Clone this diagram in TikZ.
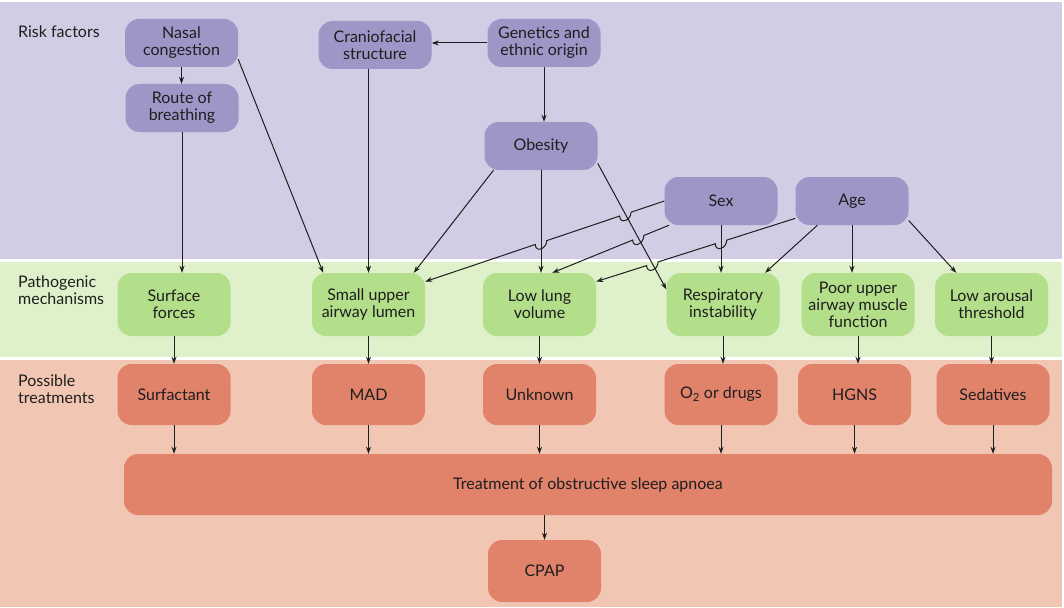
\documentclass[tikz,border=0pt]{standalone}
\usepackage{fontspec}
\setmainfont{Lato}
\usepackage{tikz}
\usetikzlibrary{arrows.meta,calc,intersections}

\definecolor{rfband}{HTML}{D2CDE4}
\definecolor{rfnode}{HTML}{9F95C7}
\definecolor{pmband}{HTML}{DEF1CA}
\definecolor{pmnode}{HTML}{B3DE8A}
\definecolor{ptband}{HTML}{F1C7B3}
\definecolor{ptnode}{HTML}{E1826A}
\definecolor{ink}{HTML}{1E1E1E}

\begin{document}
\begin{tikzpicture}[x=1pt, y=-1pt,
  kutu/.style={rounded corners=14pt, align=center, minimum width=113pt, inner sep=2pt,
               font=\fontsize{16}{17}\selectfont, text=ink},
  riskbox/.style={kutu, fill=rfnode, minimum height=48pt},
  mechbox/.style={kutu, fill=pmnode, minimum height=63pt},
  trtbox/.style={kutu, fill=ptnode, minimum height=61pt},
  bandlab/.style={anchor=west, align=left, inner sep=0pt, text=ink,
                  font=\fontsize{16}{17}\selectfont},
  ok/.style={-{Stealth[length=7pt,width=5pt]}, line width=1pt, ink}
]
\fill[white] (0,0) rectangle (1064,607);
\useasboundingbox (0,0) rectangle (1064,607);

% bands
\fill[rfband] (0,2) rectangle (1062,259);
\fill[pmband] (0,262) rectangle (1062,357);
\fill[ptband] (0,360) rectangle (1062,607);

\node[bandlab] (lrisk) at (18,32) {Risk factors};
\node[bandlab] (lpath) at (18,290) {Pathogenic\\mechanisms};
\node[bandlab] (lposs) at (18,389) {Possible\\treatments};

% risk factors
\node[riskbox] (nasal)  at (181.5,43) {Nasal\\congestion};
\node[riskbox] (route)  at (182,108)  {Route of\\breathing};
\node[riskbox] (cranio) at (375,45)   {Craniofacial\\structure};
\node[riskbox] (genet)  at (544,43)   {Genetics and\\ethnic origin};
\node[riskbox] (obes)   at (541,146)  {Obesity};
\node[riskbox] (sex)    at (721,201)  {Sex};
\node[riskbox] (age)    at (852,201)  {Age};

% pathogenic mechanisms
\node[mechbox] (surf)  at (174,304.5)   {Surface\\forces};
\node[mechbox] (slua)  at (368.5,304.5) {Small upper\\airway lumen};
\node[mechbox] (llv)   at (539.5,304.5) {Low lung\\volume};
\node[mechbox] (resp)  at (723,304.5)   {Respiratory\\instability};
\node[mechbox] (poor)  at (858,304.5)   {Poor upper\\airway muscle\\function};
\node[mechbox] (arous) at (991.5,304.5) {Low arousal\\threshold};

% possible treatments
\node[trtbox] (surfact) at (174,394.5)   {Surfactant};
\node[trtbox] (mad)     at (368.5,394.5) {MAD};
\node[trtbox] (unk)     at (539.5,394.5) {Unknown};
\node[trtbox] (otwo)    at (721,394.5)   {O\textsubscript{2} or drugs};
\node[trtbox] (hgns)    at (854.5,394.5) {HGNS};
\node[trtbox] (sed)     at (993,394.5)   {Sedatives};
\node[trtbox, minimum width=928pt] (treat) at (588,484.5) {Treatment of obstructive sleep apnoea};
\node[trtbox, minimum height=62pt] (cpap) at (544.5,571) {CPAP};

% risk factor links
\draw[ok] (nasal.south) -- (nasal.south |- route.north);
\draw[ok] (route.south) -- (route.south |- surf.north);
\draw[ok] (nasal.-16) -- (slua.145);
\draw[ok] (genet.west) -- (genet.west -| cranio.east);
\draw[ok] (cranio.south -| slua.north) -- (slua.north);
\draw[ok] (genet.south) -- (genet.south |- obes.north);
\draw[ok] (obes.207) -- (slua.35);
\draw[ok, name path=ob-ll] (obes.south) -- (obes.south |- llv.north);
\draw[ok, name path=ob-re] (obes.-17) -- (resp.165);
\draw[ok, name path=sx-re] (sex.south) -- (sex.south |- resp.north);
\draw[ok] (age.215) -- (resp.37);
\draw[ok] (age.south) -- (age.south |- poor.north);
\draw[ok] (age.-19) -- (arous.138);

% crossings (line hops)
\path[name path=sx-sl] (sex.west) -- (slua.22);
\path[name path=sx-ll] (sex.205) -- (llv.68);
\path[name path=ag-ll] (age.197) -- (llv.22);
\path[name intersections={of=sx-sl and ob-re, by=h1}];
\path[name intersections={of=sx-sl and ob-ll, by=h2}];
\path[name intersections={of=sx-ll and ob-re, by=h3}];
\path[name intersections={of=ag-ll and sx-re, by=h4}];
\path[name intersections={of=ag-ll and ob-re, by=h5}];

\draw[ok] (sex.west) -- ($(h1)!6pt!(sex.west)$) .. controls +(0,8.5) and +(0,8.5) .. ($(h1)!6pt!(slua.22)$)
  -- ($(h2)!6pt!(sex.west)$) .. controls +(0,8.5) and +(0,8.5) .. ($(h2)!6pt!(slua.22)$) -- (slua.22);
\draw[ok] (sex.205) -- ($(h3)!6pt!(sex.205)$) .. controls +(0,8.5) and +(0,8.5) .. ($(h3)!6pt!(llv.68)$) -- (llv.68);
\draw[ok] (age.197) -- ($(h4)!6pt!(age.197)$) .. controls +(0,8.5) and +(0,8.5) .. ($(h4)!6pt!(llv.22)$)
  -- ($(h5)!6pt!(age.197)$) .. controls +(0,8.5) and +(0,8.5) .. ($(h5)!6pt!(llv.22)$) -- (llv.22);

% mechanisms to treatments
\draw[ok] (surf.south) -- (surfact.north);
\draw[ok] (slua.south) -- (mad.north);
\draw[ok] (llv.south) -- (unk.north);
\draw[ok] (resp.south) -- (resp.south |- otwo.north);
\draw[ok] (poor.south) -- (poor.south |- hgns.north);
\draw[ok] (arous.south) -- (arous.south |- sed.north);

% treatments to OSA treatment
\draw[ok] (surfact.south) -- (surfact.south |- treat.north);
\draw[ok] (mad.south) -- (mad.south |- treat.north);
\draw[ok] (unk.south) -- (unk.south |- treat.north);
\draw[ok] (otwo.south) -- (otwo.south |- treat.north);
\draw[ok] (hgns.south) -- (hgns.south |- treat.north);
\draw[ok] (sed.south) -- (sed.south |- treat.north);
\draw[ok] (treat.south -| cpap.north) -- (cpap.north);
\end{tikzpicture}
\end{document}
